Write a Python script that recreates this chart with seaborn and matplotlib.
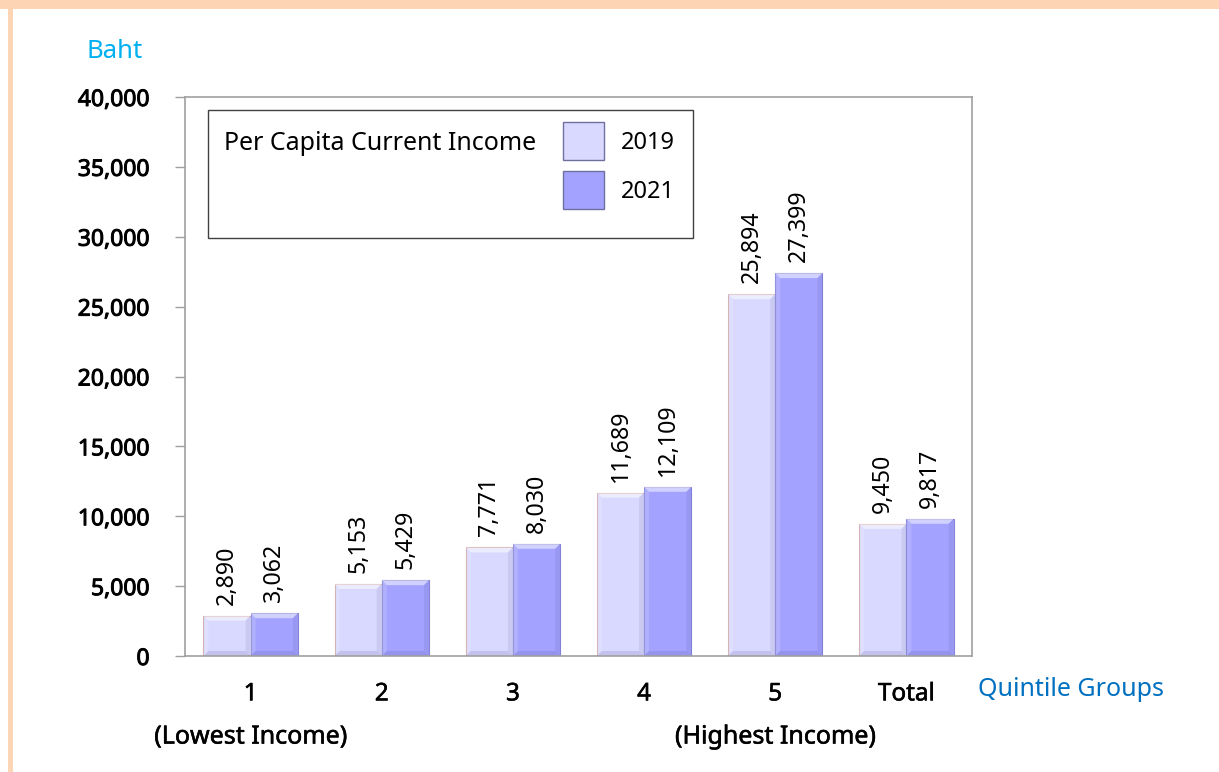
import matplotlib
matplotlib.use("Agg")
import matplotlib.pyplot as plt
import matplotlib.patheffects as pe
from matplotlib.patches import Rectangle, Polygon, Patch
import seaborn as sns
import pandas as pd

# ---- data ----
groups = ["1", "2", "3", "4", "5", "Total"]
years = ["2019", "2021"]
income_2019 = [2890, 5153, 7771, 11689, 25894, 9450]
income_2021 = [3062, 5429, 8030, 12109, 27399, 9817]

df = pd.DataFrame({
    "group": groups * 2,
    "year": [years[0]] * len(groups) + [years[1]] * len(groups),
    "income": income_2019 + income_2021,
})

fill_colors = {"2019": "#D9D9FF", "2021": "#A3A3FF"}
edge_colors = {"2019": "#D0A8A8", "2021": "#8484D8"}

sns.set_style("white")
plt.rcParams["font.family"] = ["Noto Sans", "DejaVu Sans"]
plt.rcParams["text.color"] = "black"
plt.rcParams["xtick.color"] = "black"
plt.rcParams["ytick.color"] = "black"

# slight thickening so axis text reads as dark as screen-rendered type
heavy = [pe.withStroke(linewidth=0.7, foreground="black")]
medium = [pe.withStroke(linewidth=0.4, foreground="black")]

fig = plt.figure(figsize=(12.19, 7.72), dpi=100)
fig.patch.set_facecolor("white")
ax = fig.add_axes([185 / 1219, 1 - 656 / 772, 787 / 1219, 559 / 772])

sns.barplot(data=df, x="group", y="income", hue="year", order=groups,
            hue_order=years, palette=fill_colors, width=0.72, gap=0,
            saturation=1, legend=False, ax=ax)

ax.set_ylim(0, 40000)
ax.set_xlim(-0.5, len(groups) - 0.5)
ax.set_yticks(range(0, 40001, 5000))
ax.set_yticklabels([f"{v:,}" for v in range(0, 40001, 5000)], fontsize=16.5)
ax.set_xlabel("")
ax.set_ylabel("")
ax.tick_params(axis="y", length=7, width=1, color="#A0A0A0", labelcolor="black",
               pad=18.5, direction="out", left=True)
ax.tick_params(axis="x", length=0, pad=19, labelcolor="black")
for lbl in ax.get_xticklabels():
    lbl.set_fontsize(17.5)
    lbl.set_path_effects(medium)
for lbl in ax.get_yticklabels():
    lbl.set_path_effects(heavy)
for sp in ax.spines.values():
    sp.set_color("#A0A0A0")
    sp.set_linewidth(1.2)

# bevelled look on each bar, plus value labels
px_x = len(groups) / 787.0
px_y = 40000 / 559.0
bx, by = 5 * px_x, 5 * px_y
for yr, cont in zip(years, ax.containers):
    for bar in cont:
        bar.set_edgecolor(edge_colors[yr])
        bar.set_linewidth(0.8)
        x0, w, h = bar.get_x(), bar.get_width(), bar.get_height()
        x1 = x0 + w
        top = [(x0, h), (x1, h), (x1 - bx, h - by), (x0 + bx, h - by)]
        bot = [(x0, 0), (x1, 0), (x1 - bx, by), (x0 + bx, by)]
        left = [(x0, 0), (x0, h), (x0 + bx, h - by), (x0 + bx, by)]
        right = [(x1, 0), (x1, h), (x1 - bx, h - by), (x1 - bx, by)]
        ax.add_patch(Polygon(top, closed=True, facecolor="white", alpha=0.5, lw=0))
        ax.add_patch(Polygon(left, closed=True, facecolor="white", alpha=0.15, lw=0))
        ax.add_patch(Polygon(right, closed=True, facecolor="#404080", alpha=0.10, lw=0))
        ax.add_patch(Polygon(bot, closed=True, facecolor="#404080", alpha=0.15, lw=0))
    ax.bar_label(cont, labels=[f"{v:,.0f}" for v in cont.datavalues],
                 rotation=90, padding=8, fontsize=16.7, color="black")

# sub-captions under the extreme quintiles
trans = ax.get_xaxis_transform()
ax.text(0, -0.145, "(Lowest Income)", transform=trans, ha="center", va="center",
        fontsize=18, path_effects=medium)
ax.text(4, -0.145, "(Highest Income)", transform=trans, ha="center", va="center",
        fontsize=18, path_effects=medium)

# axis captions
fig.text(115 / 1219, 1 - 52 / 772, "Baht", color="#00B0F0", fontsize=18.5,
         ha="center", va="center")
fig.text(978 / 1219, 1 - 690 / 772, "Quintile Groups", color="#0070C0",
         fontsize=18, ha="left", va="center")

# legend box
fig.patches.append(Rectangle((208 / 1219, 1 - 238 / 772), 485 / 1219, 128 / 772,
                             transform=fig.transFigure, facecolor="white",
                             edgecolor="#404040", linewidth=1.0, zorder=5))
fig.text(224 / 1219, 1 - 143 / 772, "Per Capita Current Income", fontsize=18,
         ha="left", va="center", zorder=6)
handles = [Patch(facecolor=fill_colors[y], edgecolor="#7070A0", linewidth=1.0)
           for y in years]
leg = fig.legend(handles, years, loc="upper left",
                 bbox_to_anchor=(554 / 1219, 1 - 113 / 772),
                 frameon=False, fontsize=17, handlelength=1.7, handleheight=2.1,
                 labelspacing=0.45, handletextpad=0.72, borderaxespad=0)
leg.set_zorder(7)

# decorative page border
fig.patches.append(Rectangle((0, 1 - 9 / 772), 1, 9 / 772, transform=fig.transFigure,
                             facecolor="#FDD5B4", edgecolor="none", zorder=0))
fig.patches.append(Rectangle((8 / 1219, 0), 5 / 1219, 1 - 9 / 772,
                             transform=fig.transFigure, facecolor="#FDD5B4",
                             edgecolor="none", zorder=0))

fig.savefig("out.png", dpi=100)
